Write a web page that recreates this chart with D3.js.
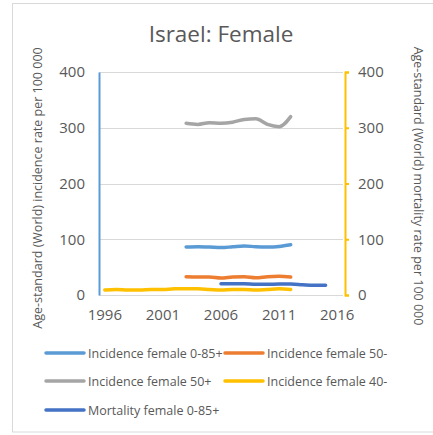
<!DOCTYPE html>
<html>
<head>
<meta charset="utf-8">
<script src="https://cdn.jsdelivr.net/npm/d3@7"></script>
<style>
  body { margin: 0; background: #fff; }
  text { font-family: "Open Sans", "Noto Sans", sans-serif; fill: #595959; }
</style>
</head>
<body>
<svg id="chart" width="433" height="435"></svg>
<script>
// categories (years) and tick labels
var years = d3.range(1996, 2017);
var yearTicks = [1996, 2001, 2006, 2011, 2016];
var yTicks = [0, 100, 200, 300, 400];

// series
var incidenceAllYears = [2003, 2004, 2005, 2006, 2007, 2008, 2009, 2010, 2011, 2012];
var incidenceAll  = [86, 86.5, 86, 85, 86.5, 88, 86.5, 86, 87, 90];
var incidence50m  = [32.8, 32.3, 32.3, 30.5, 32.3, 32.8, 31, 32.8, 33.5, 32.3];
var incidence50p  = [308, 306, 309, 308, 310, 315, 316, 306, 302, 320];
var incidence40Years = d3.range(1996, 2013);
var incidence40m  = [9, 10, 9, 9, 10, 10, 11, 11, 11, 10, 9, 10, 10, 9, 10, 11, 10];
var mortalityYears = d3.range(2006, 2016);
var mortalityAll  = [20.3, 20.3, 20.3, 19.2, 19.2, 19.7, 19.7, 18.5, 17.4, 17.4];

var series = [
    {name: 'Incidence female 0-85+', years: incidenceAllYears, values: incidenceAll, color: '#5B9BD5'},
    {name: 'Incidence female 50-',   years: incidenceAllYears, values: incidence50m, color: '#ED7D31'},
    {name: 'Incidence female 50+',   years: incidenceAllYears, values: incidence50p, color: '#A5A5A5'},
    {name: 'Incidence female 40-',   years: incidence40Years,  values: incidence40m, color: '#FFC000'},
    {name: 'Mortality female 0-85+', years: mortalityYears,    values: mortalityAll, color: '#4472C4'}
];

var svg = d3.select('#chart');
var plot = {left: 99, right: 343, top: 72, bottom: 295};

// outer frame
svg.append('rect')
    .attr('x', 12.5).attr('y', 3.5)
    .attr('width', 430).attr('height', 428.5)
    .attr('fill', 'none').attr('stroke', '#D9D9D9');

var x = d3.scaleBand().domain(years).range([plot.left, plot.right]);
var y = d3.scaleLinear().domain([0, 400]).range([plot.bottom, plot.top]);
var y2 = d3.scaleLinear().domain([0, 400]).range([plot.bottom, plot.top]);
var cx = function (yr) { return x(yr) + x.bandwidth() / 2; };

// gridlines
svg.append('g').selectAll('line')
    .data(yTicks)
    .enter().append('line')
    .attr('x1', plot.left).attr('x2', plot.right)
    .attr('y1', function (d) { return Math.round(y(d)) + 0.5; })
    .attr('y2', function (d) { return Math.round(y(d)) + 0.5; })
    .attr('stroke', '#D9D9D9').attr('stroke-width', 1);

// left axis (blue line, no ticks)
var leftAxis = svg.append('g')
    .attr('transform', 'translate(' + plot.left + ',0)')
    .call(d3.axisLeft(y).tickValues(yTicks).tickSize(0).tickPadding(14));
leftAxis.select('.domain').attr('stroke', '#5B9BD5').attr('stroke-width', 2);
leftAxis.selectAll('text').style('font-size', '15px').attr('fill', '#595959')
    .style('font-family', '"Open Sans", sans-serif');

// right axis (yellow, outward ticks)
var rightAxis = svg.append('g')
    .attr('transform', 'translate(' + (plot.right + 2) + ',0)')
    .call(d3.axisRight(y2).tickValues(yTicks).tickSize(4).tickSizeOuter(4).tickPadding(9));
rightAxis.select('.domain').attr('stroke', '#FFC000').attr('stroke-width', 2);
rightAxis.selectAll('.tick line').attr('stroke', '#FFC000').attr('stroke-width', 2);
rightAxis.selectAll('text').style('font-size', '15px').attr('fill', '#595959')
    .style('font-family', '"Open Sans", sans-serif');

// x axis labels
var xAxis = svg.append('g')
    .attr('transform', 'translate(0,' + plot.bottom + ')')
    .call(d3.axisBottom(x).tickValues(yearTicks).tickSize(0).tickPadding(14));
xAxis.select('.domain').remove();
xAxis.selectAll('text').style('font-size', '15px').attr('fill', '#595959')
    .style('font-family', '"Open Sans", sans-serif');

// lines
var line = d3.line()
    .x(function (d) { return cx(d[0]); })
    .y(function (d) { return y(d[1]); })
    .curve(d3.curveMonotoneX);

series.forEach(function (s) {
    var pts = s.years.map(function (yr, i) { return [yr, s.values[i]]; });
    svg.append('path')
        .datum(pts)
        .attr('d', line)
        .attr('fill', 'none')
        .attr('stroke', s.color)
        .attr('stroke-width', 3.5)
        .attr('stroke-linecap', 'round')
        .attr('stroke-linejoin', 'round');
});

// title
svg.append('text')
    .attr('x', 221).attr('y', 42)
    .attr('text-anchor', 'middle')
    .style('font-size', '22.5px')
    .text('Israel: Female');

// axis titles
svg.append('text')
    .attr('transform', 'translate(42,188) rotate(-90)')
    .attr('text-anchor', 'middle')
    .style('font-size', '12.5px')
    .text('Age-standard (World) incidence rate per 100 000');

svg.append('text')
    .attr('transform', 'translate(414,186) rotate(90)')
    .attr('text-anchor', 'middle')
    .style('font-size', '12.5px')
    .text('Age-standard (World) mortality rate per 100 000');

// legend
var legendPos = [[46, 353], [225, 353], [46, 381], [225, 381], [46, 410]];
var legend = svg.append('g').selectAll('g')
    .data(series)
    .enter().append('g')
    .attr('transform', function (d, i) { return 'translate(' + legendPos[i][0] + ',' + legendPos[i][1] + ')'; });
legend.append('line')
    .attr('x1', 0).attr('x2', 38)
    .attr('stroke', function (d) { return d.color; })
    .attr('stroke-width', 3.5)
    .attr('stroke-linecap', 'round');
legend.append('text')
    .attr('x', 42).attr('y', 4.5)
    .style('font-size', '12.5px')
    .text(function (d) { return d.name; });
</script>
</body>
</html>
